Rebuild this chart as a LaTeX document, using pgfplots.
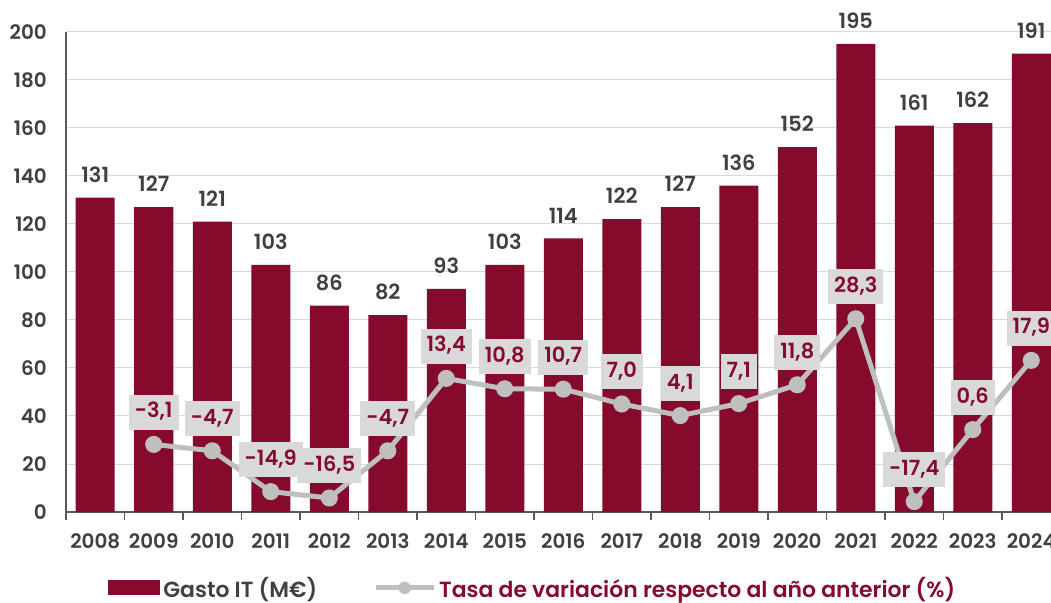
\documentclass[border=0pt]{standalone}
\usepackage{pgfplots}
\pgfplotsset{compat=1.18}
\usepackage{fontspec}
\setmainfont{Poppins}[BoldFont={Poppins SemiBold}]
\usetikzlibrary{calc}

\definecolor{granate}{RGB}{133,10,43}
\definecolor{gristxt}{RGB}{64,64,64}
\definecolor{grislinea}{RGB}{191,191,191}
\definecolor{griscaja}{RGB}{217,217,217}
\definecolor{grisrejilla}{RGB}{217,217,217}
\definecolor{grisejes}{RGB}{89,89,89}

\newcommand\fticks{\fontsize{20}{24}\selectfont\bfseries}
\newcommand\fdatos{\fontsize{21}{25}\selectfont\bfseries}
\newcommand\fley{\fontsize{22}{26}\selectfont\bfseries}

\pgfplotsset{
  comun/.style={
    scale only axis, width=994.5bp, height=480bp,
    xmin=-0.5, xmax=16.5,
  }
}

\begin{document}
\begin{tikzpicture}
\begin{axis}[comun,
  ybar, bar width=39bp,
  ymin=0, ymax=200, ytick={0,20,...,200},
  axis lines=left, axis line style={-, grisejes, line width=1.5bp},
  ymajorgrids, grid style={grisrejilla, line width=1bp},
  xtick={0,...,16},
  xticklabels={2008,2009,2010,2011,2012,2013,2014,2015,2016,2017,2018,2019,2020,2021,2022,2023,2024},
  minor xtick={-0.5,0.5,...,16.5},
  major tick length=0pt, minor tick length=8bp, tick align=outside,
  minor tick style={grisejes, line width=1.5bp},
  ytick style={draw=none},
  tick label style={font=\fticks, text=gristxt},
  yticklabel style={inner sep=0pt, xshift=-19bp},
  xticklabel style={inner sep=0pt, yshift=-21bp},
  /pgf/number format/assume math mode=true,
  nodes near coords,
  nodes near coords style={font=\fdatos, text=gristxt, anchor=south, inner sep=0pt, yshift=15bp},
  legend columns=2,
  legend style={at={(0.0424,-0.158)}, anchor=west, draw=none, fill=none,
    inner sep=0pt, font=\fley, nodes={inner sep=3bp},
    /tikz/every even column/.append style={column sep=53bp}},
]
\addplot[fill=granate, draw=none,
  legend image code/.code={\fill[granate] (0bp,-7.5bp) rectangle (52bp,7.5bp);}]
  coordinates {
  (0,131) (1,127) (2,121) (3,103) (4,86) (5,82) (6,93) (7,103) (8,114)
  (9,122) (10,127) (11,136) (12,152) (13,195) (14,161) (15,162) (16,191)
};
\addlegendentry{\textcolor{gristxt}{Gasto IT (M€)}}
\addlegendimage{legend image code/.code={
  \draw[grislinea, line width=5bp] (0bp,0bp) -- (58bp,0bp);
  \fill[grislinea] (29bp,0bp) circle (6bp);}}
\addlegendentry{\textcolor{granate}{Tasa de variación respecto al año anterior (\%)}}
\coordinate (BL) at (rel axis cs:0,0);
\end{axis}

\begin{axis}[comun, ymin=-20, ymax=100, hide axis]
\addplot[grislinea, line width=5bp, mark=*, mark size=6bp,
  mark options={fill=grislinea, draw=none},
  point meta=explicit symbolic, nodes near coords,
  nodes near coords style={fill=griscaja, text=granate, font=\fdatos,
    anchor=south, inner xsep=6bp, inner ysep=8bp,
    text height=15bp, text depth=4bp, yshift=12bp}]
  coordinates {
  (1,-3.1) [-3,1] (2,-4.7) [-4,7] (3,-14.9) [-14,9] (4,-16.5) [-16,5]
  (5,-4.7) [-4,7] (6,13.4) [13,4] (7,10.8) [10,8] (8,10.7) [10,7]
  (9,7.0) [7,0] (10,4.1) [4,1] (11,7.1) [7,1] (12,11.8) [11,8]
  (13,28.3) [28,3] (14,-17.4) [-17,4] (15,0.6) [0,6] (16,17.9) [17,9]
};
\end{axis}

\pgfresetboundingbox
\useasboundingbox ($(BL)+(-66bp,-91bp)$) rectangle ($(BL)+(985bp,512bp)$);
\end{tikzpicture}
\end{document}
